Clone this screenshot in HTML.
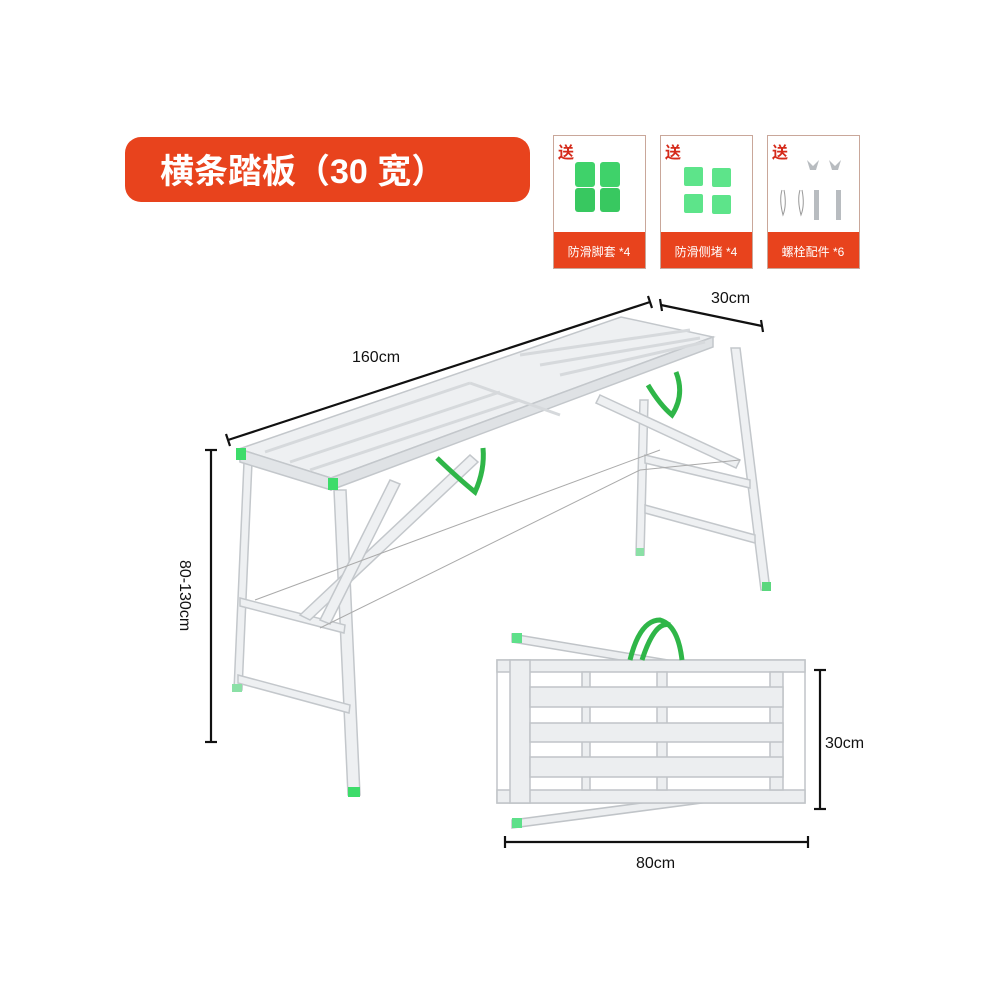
<!DOCTYPE html>
<html><head><meta charset="utf-8"><style>
body{margin:0;background:#fff;}
svg{display:block}
text{font-family:"Liberation Sans","Noto Sans CJK SC",sans-serif}
</style></head><body>
<svg width="1000" height="1000" viewBox="0 0 1000 1000" xmlns="http://www.w3.org/2000/svg">
<rect width="1000" height="1000" fill="#fff"/>
<rect x="125" y="137" width="405" height="65" rx="16" fill="#e8431d"/>
<text x="160" y="183" font-size="34" font-weight="bold" fill="#fff">横条踏板（30 宽）</text>
<g>
<rect x="553.5" y="135.5" width="92" height="133" fill="#fff" stroke="#c9a79a"/>
<rect x="554" y="232" width="91" height="36" fill="#e8431d"/>
<text x="558" y="158" font-size="16" font-weight="bold" fill="#d52a1a">送</text>
<text x="599" y="256" font-size="12" fill="#fff" text-anchor="middle">防滑脚套 *4</text>
<rect x="575" y="162" width="20" height="25" rx="3" fill="#3fd26a"/><rect x="600" y="162" width="20" height="25" rx="3" fill="#3fd26a"/>
<rect x="575" y="188" width="20" height="24" rx="3" fill="#38c860"/><rect x="600" y="188" width="20" height="24" rx="3" fill="#38c860"/>

<rect x="660.5" y="135.5" width="92" height="133" fill="#fff" stroke="#c9a79a"/>
<rect x="661" y="232" width="91" height="36" fill="#e8431d"/>
<text x="665" y="158" font-size="16" font-weight="bold" fill="#d52a1a">送</text>
<text x="706" y="256" font-size="12" fill="#fff" text-anchor="middle">防滑侧堵 *4</text>
<rect x="684" y="167" width="19" height="19" rx="2" fill="#5de48a"/><rect x="712" y="168" width="19" height="19" rx="2" fill="#5de48a"/>
<rect x="684" y="194" width="19" height="19" rx="2" fill="#5de48a"/><rect x="712" y="195" width="19" height="19" rx="2" fill="#5de48a"/>

<rect x="767.5" y="135.5" width="92" height="133" fill="#fff" stroke="#c9a79a"/>
<rect x="768" y="232" width="91" height="36" fill="#e8431d"/>
<text x="772" y="158" font-size="16" font-weight="bold" fill="#d52a1a">送</text>
<text x="813" y="256" font-size="12" fill="#fff" text-anchor="middle">螺栓配件 *6</text>
<g fill="#b8bcc0"><rect x="814" y="190" width="5" height="30"/><rect x="836" y="190" width="5" height="30"/>
<path d="M807 160 l6 6 l6-6 l-3 10 h-6z"/><path d="M829 160 l6 6 l6-6 l-3 10 h-6z"/></g>
<g stroke="#999" fill="none"><path d="M782 190 q-3 10 1 25 q4-10 1-25"/><path d="M800 190 q-3 10 1 25 q4-10 1-25"/></g>
</g>

<g stroke="#111" stroke-width="2.2" fill="none">
<line x1="228" y1="440" x2="650" y2="302"/><line x1="226" y1="434" x2="230" y2="446"/><line x1="648" y1="296" x2="652" y2="308"/>
<line x1="661" y1="305" x2="762" y2="326"/><line x1="660" y1="299" x2="662" y2="311"/><line x1="761" y1="320" x2="763" y2="332"/>
<line x1="211" y1="450" x2="211" y2="742"/><line x1="205" y1="450" x2="217" y2="450"/><line x1="205" y1="742" x2="217" y2="742"/>
<line x1="820" y1="670" x2="820" y2="809"/><line x1="814" y1="670" x2="826" y2="670"/><line x1="814" y1="809" x2="826" y2="809"/>
<line x1="505" y1="842" x2="808" y2="842"/><line x1="505" y1="836" x2="505" y2="848"/><line x1="808" y1="836" x2="808" y2="848"/>
</g>
<g font-size="16" fill="#111">
<text x="352" y="362">160cm</text>
<text x="711" y="303">30cm</text>
<text x="825" y="748">30cm</text>
<text x="636" y="868">80cm</text>
<text transform="translate(180,560) rotate(90)">80-130cm</text>
</g>

<g stroke="#c3c7cb" fill="#eef0f2" stroke-width="1.5">
<path d="M244 462 L252 462 L242 690 L234 690Z"/>
<path d="M334 490 L346 490 L360 795 L348 795Z"/>
<path d="M731 348 L740 348 L770 590 L761 590Z"/>
<path d="M640 400 L648 400 L644 555 L636 555Z"/>
<path d="M240 598 L345 625 L344 633 L240 606Z"/>
<path d="M238 675 L350 705 L349 713 L238 683Z"/>
<path d="M645 455 L750 480 L750 488 L645 463Z"/>
<path d="M645 505 L755 535 L755 543 L645 513Z"/>
<path d="M300 615 L470 455 L478 462 L310 620Z"/>
<path d="M320 620 L390 480 L400 484 L330 624Z"/>
<path d="M600 395 L740 460 L736 468 L596 403Z"/>
<path d="M239 449 L621 317 L713 337 L331 478Z"/>
<path d="M239 449 L331 478 L331 490 L240 462Z" fill="#e2e5e8"/>
<path d="M331 478 L713 337 L713 347 L331 490Z" fill="#dfe2e5"/>
</g>
<g stroke="#d6d9dc" stroke-width="3">
<line x1="265" y1="452" x2="470" y2="383"/><line x1="290" y1="462" x2="500" y2="392"/><line x1="310" y1="470" x2="520" y2="400"/>
<line x1="520" y1="355" x2="690" y2="330"/><line x1="540" y1="365" x2="700" y2="338"/><line x1="560" y1="375" x2="705" y2="342"/>
<line x1="470" y1="383" x2="560" y2="415"/>
</g>
<g stroke="#aaa" stroke-width="1" fill="none">
<path d="M255 600 L660 450"/><path d="M320 628 L640 470 L740 460"/>
</g>
<rect x="236" y="448" width="10" height="12" fill="#3ddc6a"/><rect x="328" y="478" width="10" height="12" fill="#3ddc6a"/>
<rect x="348" y="787" width="12" height="10" fill="#3ddc6a"/><rect x="762" y="582" width="9" height="9" fill="#5bd77e"/>
<rect x="232" y="684" width="10" height="8" fill="#8be0a6"/><rect x="636" y="548" width="8" height="8" fill="#8be0a6"/>
<g stroke="#2fb648" stroke-width="5" fill="none">
<path d="M437 458 Q460 480 475 492 Q485 470 483 448"/>
<path d="M648 385 Q660 405 672 415 Q685 395 676 372"/>
</g>

<g stroke="#c0c4c8" fill="#eceef0" stroke-width="1.5">
<path d="M512 634 L680 662 L680 670 L512 642Z"/>
<path d="M512 820 L740 790 L740 798 L512 828Z"/>
<rect x="497" y="660" width="308" height="143" fill="#fff"/>
<rect x="497" y="660" width="308" height="12"/>
<rect x="497" y="790" width="308" height="13"/>
<rect x="510" y="660" width="20" height="143"/>
<rect x="582" y="672" width="8" height="118"/><rect x="657" y="672" width="10" height="118"/><rect x="770" y="672" width="13" height="118"/>
<rect x="530" y="687" width="253" height="20"/>
<rect x="530" y="723" width="253" height="19"/>
<rect x="530" y="757" width="253" height="20"/>
</g>
<rect x="512" y="633" width="10" height="10" fill="#5ee08a"/><rect x="512" y="818" width="10" height="10" fill="#5ee08a"/>
<g stroke="#2fb648" stroke-width="5" fill="none"><path d="M630 660 Q640 620 660 620 Q678 625 682 660"/><path d="M642 660 Q655 620 670 625"/></g>
</svg>
</body></html>
